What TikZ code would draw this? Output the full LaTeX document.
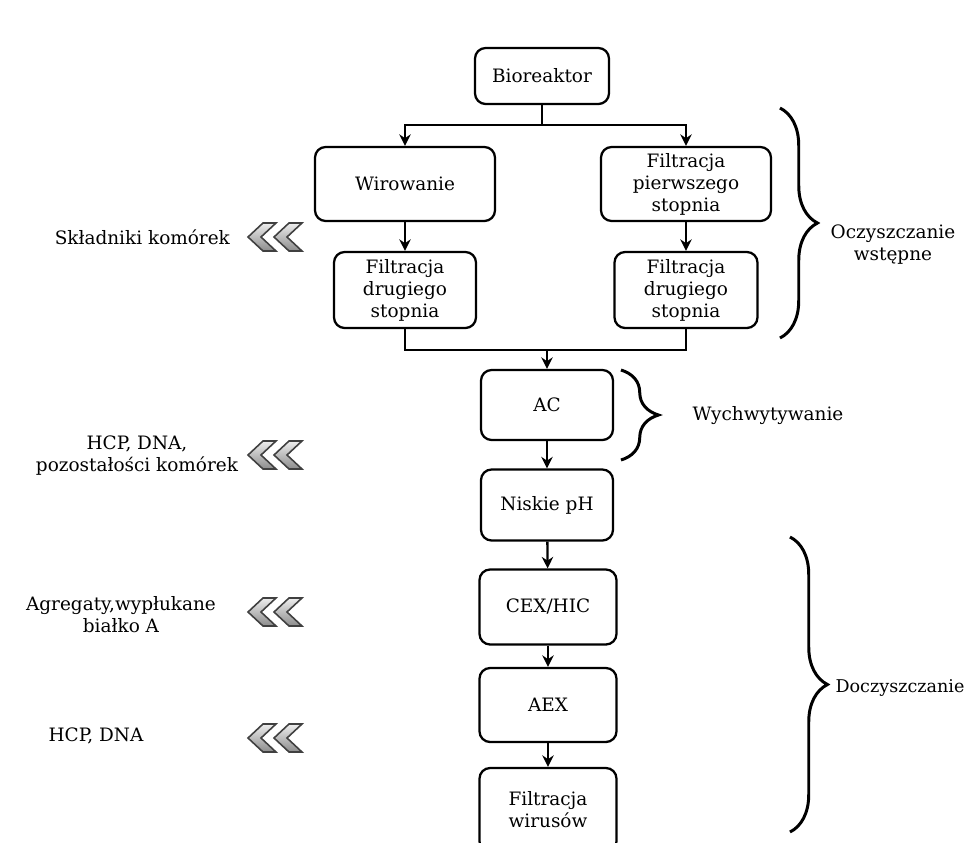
\documentclass[tikz,border=0pt]{standalone}
\usepackage{fontspec}
\setmainfont{DejaVu Serif}
\usetikzlibrary{arrows.meta,decorations.pathreplacing}
\definecolor{chevd}{HTML}{8C8C8C}
\definecolor{chevl}{HTML}{EDEDED}
\tikzset{
  ar/.style={-{Stealth[length=2.3mm,width=2.3mm]},line width=1.3pt,black},
  box/.style={draw,line width=1.3pt,rounded corners=6pt,fill=white,align=center,inner sep=1pt,font=\fontsize{10.5}{12.5}\selectfont},
  lab/.style={align=center,inner sep=1pt,font=\fontsize{10.5}{12.5}\selectfont},
  brc/.style={decorate,decoration={brace,amplitude=0.75cm},line width=1.7pt}
}
\newcommand{\chevs}[2]{\foreach \dx in {0,26}
  \filldraw[draw=black!75,line width=0.9pt,top color=chevl,bottom color=chevd]
    (#1+\dx,#2)--++(15,-14)--++(13,0)--++(-15,14)--++(15,14)--++(-13,0)--cycle;}

\begin{document}
\begin{tikzpicture}[x=0.02cm,y=-0.02cm]
\useasboundingbox (0,0) rectangle (965,843);
% process column
\node[box,minimum width=2.68cm,minimum height=1.12cm] (bio) at (542,76) {Bioreaktor};
\node[box,minimum width=3.6cm,minimum height=1.48cm] (wir) at (405,184) {Wirowanie};
\node[box,minimum width=3.4cm,minimum height=1.48cm] (fil1) at (686,184) {Filtracja\\pierwszego\\stopnia};
\node[box,minimum width=2.84cm,minimum height=1.52cm] (fil2a) at (405,290) {Filtracja\\drugiego\\stopnia};
\node[box,minimum width=2.86cm,minimum height=1.52cm] (fil2b) at (686,290) {Filtracja\\drugiego\\stopnia};
\node[box,minimum width=2.64cm,minimum height=1.4cm] (ac) at (547,405) {AC};
\node[box,minimum width=2.64cm,minimum height=1.42cm] (ph) at (547,505) {Niskie pH};
\node[box,minimum width=2.74cm,minimum height=1.5cm] (cex) at (548,607) {CEX/HIC};
\node[box,minimum width=2.74cm,minimum height=1.48cm] (aex) at (548,705) {AEX};
\node[box,minimum width=2.74cm,minimum height=1.68cm] (vir) at (548,810) {Filtracja\\wirusów};
\coordinate (spl) at (542,125);
\coordinate (mrg) at (547,350);
% connectors
\draw[line width=1.3pt] (bio.south) -- (spl);
\draw[ar] (spl) -| (wir.north);
\draw[ar] (spl) -| (fil1.north);
\draw[ar] (wir) -- (fil2a);
\draw[ar] (fil1) -- (fil2b);
\draw[line width=1.3pt] (fil2a.south) |- (mrg) -| (fil2b.south);
\draw[ar] (mrg) -- (ac.north);
\draw[ar] (ac) -- (ph);
\draw[ar] (ph) -- (cex);
\draw[ar] (cex) -- (aex);
\draw[ar] (aex) -- (vir);
% removed impurities
\node[lab,anchor=east] (skl) at (232,237) {Składniki komórek};
\node[lab] (hcp1) at (137,456) {HCP, DNA,\\pozostałości komórek};
\node[lab] (agr) at (121,615) {Agregaty,wypłukane\\białko A};
\node[lab] (hcp2) at (96,736) {HCP, DNA};
\chevs{248}{237}
\chevs{248}{455}
\chevs{248}{612}
\chevs{248}{738}
% stages
\draw[brc] (780,108) -- (780,338);
\draw[brc] (621,370) -- (621,460);
\draw[brc] (790,537) -- (790,832);
\node[lab] (pre) at (893,245) {Oczyszczanie\\wstępne};
\node[lab] (cap) at (768,416) {Wychwytywanie};
\node[lab,font=\fontsize{10}{12}\selectfont] (pol) at (900,688) {Doczyszczanie};
\end{tikzpicture}
\end{document}
